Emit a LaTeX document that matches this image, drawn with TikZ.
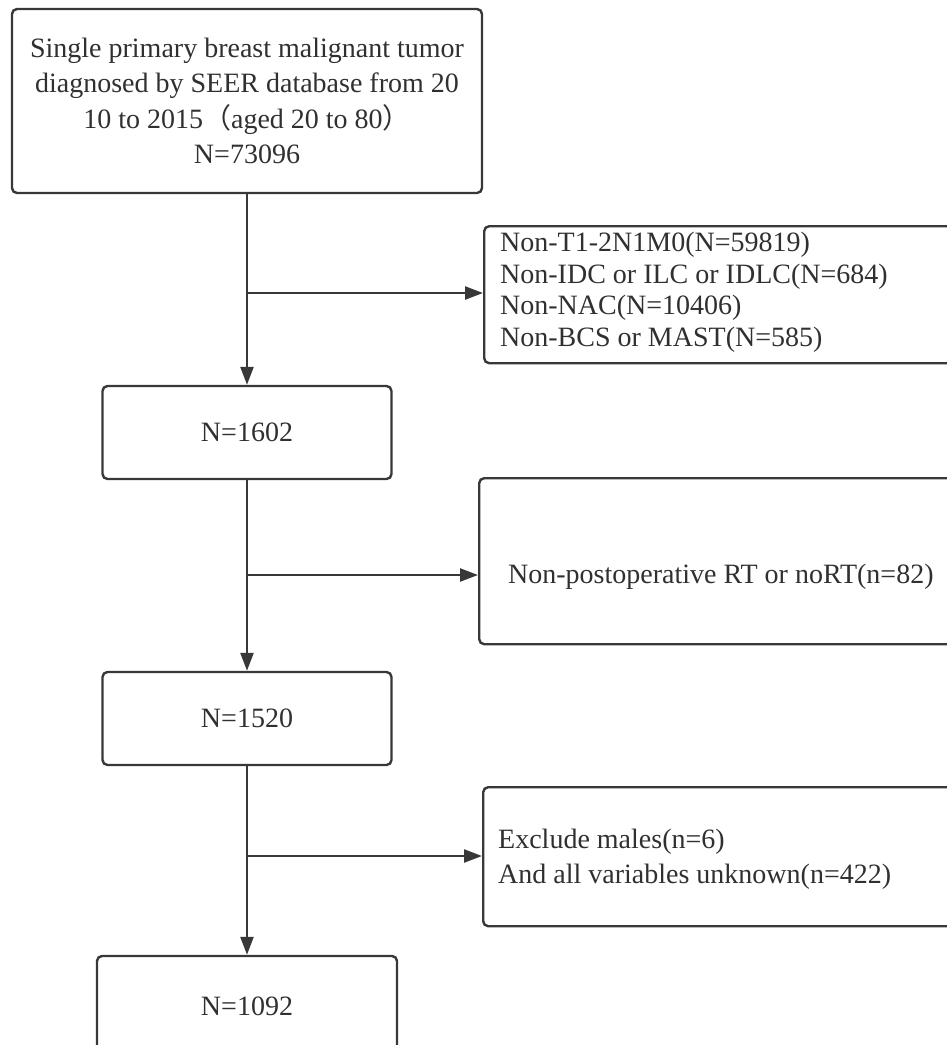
\documentclass[tikz,border=0pt]{standalone}
\usepackage{fontspec}
\setmainfont{Liberation Serif}
\newfontfamily\cjk{Noto Sans CJK SC}
\usetikzlibrary{arrows.meta}
\definecolor{lncol}{HTML}{383838}
\definecolor{txcol}{HTML}{303030}
\begin{document}
\begin{tikzpicture}[x=1pt,y=-1pt,
  box/.style={draw=lncol, line width=2.4pt, rounded corners=5pt, inner sep=0pt, text=txcol},
  flow/.style={draw=lncol, line width=2.4pt, -{Triangle[length=18pt,width=13pt]}},
  lbl/.style={text=txcol, inner sep=0pt, align=left},
  every node/.style={font=\fontsize{28}{35}\selectfont}]
\useasboundingbox (0,0) rectangle (947,1045);
\clip (0,0) rectangle (947,1045);
% main boxes
\node[box, minimum width=470pt, minimum height=184pt, align=center,
      font=\fontsize{28}{35.5}\selectfont] (top) at (247,101)
  {Single primary breast malignant tumor\\diagnosed by SEER database from 20\\10 to 2015{\cjk （}aged 20 to 80{\cjk ）}\\N=73096};
\node[box, minimum width=289pt, minimum height=93pt] (n1) at (247,432.5) {N=1602};
\node[box, minimum width=289pt, minimum height=93pt] (n2) at (247,718.5) {N=1520};
\node[box, minimum width=300pt, minimum height=100pt] (n3) at (247,1006) {N=1092};
% exclusion boxes
\node[box, anchor=north west, minimum width=540pt, minimum height=137pt] (ex1) at (483,225) {};
\node[lbl, anchor=north west, font=\fontsize{28}{31.5}\selectfont] (t1) at (500,232)
  {Non-T1-2N1M0(N=59819)\\Non-IDC or ILC or IDLC(N=684)\\Non-NAC(N=10406)\\Non-BCS or MAST(N=585)};
\node[box, anchor=north west, minimum width=540pt, minimum height=166pt] (ex2) at (478,477) {};
\node[lbl, anchor=base west] (t2) at (508,583) {Non-postoperative RT or noRT(n=82)};
\node[box, anchor=north west, minimum width=540pt, minimum height=139pt] (ex3) at (482,786) {};
\node[lbl, anchor=north west] (t3) at (498,829)
  {Exclude males(n=6)\\And all variables unknown(n=422)};
% connectors
\coordinate (b1) at (247,293);
\coordinate (b2) at (247,575);
\coordinate (b3) at (247,856);
\draw[flow] (top.south) -- (n1.north);
\draw[flow] (n1.south) -- (n2.north);
\draw[flow] (n2.south) -- (n3.north);
\draw[flow] (b1) -- (b1 -| ex1.west);
\draw[flow] (b2) -- (b2 -| ex2.west);
\draw[flow] (b3) -- (b3 -| ex3.west);
\end{tikzpicture}
\end{document}
